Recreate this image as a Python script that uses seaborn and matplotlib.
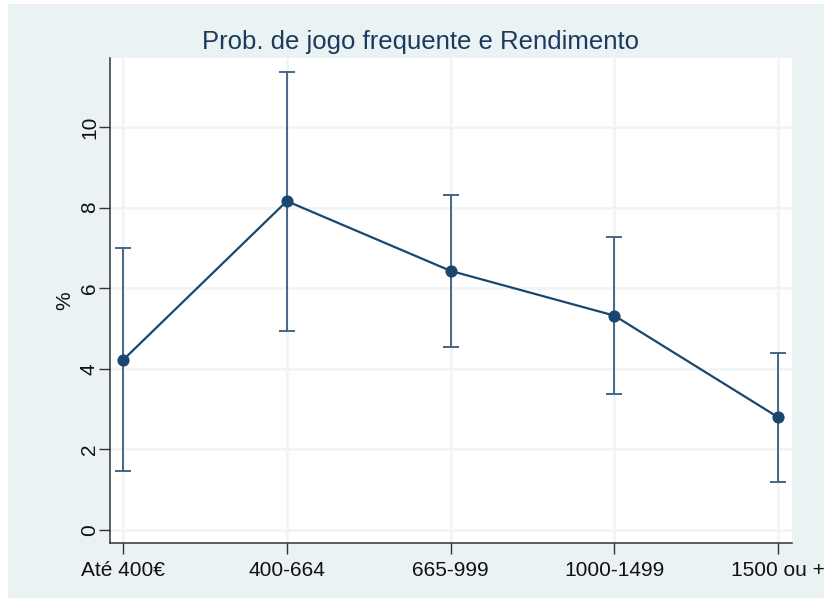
import matplotlib
matplotlib.use("Agg")
import matplotlib.pyplot as plt
import seaborn as sns
import pandas as pd
from matplotlib.patches import Rectangle

categories = ["Até 400€", "400-664", "665-999", "1000-1499", "1500 ou +"]
estimate = [4.22, 8.16, 6.43, 5.32, 2.80]
ci_low = [1.46, 4.94, 4.54, 3.37, 1.19]
ci_high = [7.00, 11.36, 8.31, 7.27, 4.39]
y_ticks = [0, 2, 4, 6, 8, 10]

title = "Prob. de jogo frequente e Rendimento"
ylabel = "%"

navy = "#1a476f"
bg = "#eaf2f3"
grid_c = "#f0f4f5"

sns.set_theme(style="white")
plt.rcParams["font.family"] = ["Liberation Sans", "DejaVu Sans"]

fig = plt.figure(figsize=(8.24, 5.98), dpi=100, facecolor="white")
fig.patches.append(Rectangle((8 / 824, 0), 1 - 8 / 824, 1 - 4 / 598,
                             transform=fig.transFigure, facecolor=bg,
                             edgecolor="none", zorder=-10))
ax = fig.add_axes([110 / 824, 55 / 598, 682 / 824, 485 / 598])
ax.set_facecolor("white")

df = pd.DataFrame({"pos": range(len(categories)), "est": estimate,
                   "lo": ci_low, "hi": ci_high})

for y in y_ticks:
    ax.axhline(y, color=grid_c, lw=1.8, zorder=0)
for x in df["pos"]:
    ax.axvline(x, color=grid_c, lw=1.8, zorder=0)

ax.errorbar(df["pos"], df["est"],
            yerr=[df["est"] - df["lo"], df["hi"] - df["est"]],
            fmt="none", ecolor="#456787", elinewidth=1.4, capsize=5.5,
            capthick=1.4, zorder=2)
sns.lineplot(data=df, x="pos", y="est", ax=ax, color=navy, lw=1.6,
             marker="o", markersize=8, markeredgecolor=navy, zorder=3)

ax.set_xlim(-0.08, 4.085)
ax.set_ylim(-0.32, 11.71)
ax.set_xticks(df["pos"])
ax.set_xticklabels(categories, fontsize=15, color="#111111")
ax.set_yticks(y_ticks)
ax.set_yticklabels([str(v) for v in y_ticks], fontsize=15, rotation=90,
                   va="center", color="#111111")
ax.tick_params(axis="both", direction="out", length=8, width=1,
               color="#333333", bottom=True, left=True)
ax.tick_params(axis="x", pad=5)
ax.tick_params(axis="y", pad=0)
for s in ["top", "right"]:
    ax.spines[s].set_visible(False)
for s in ["left", "bottom"]:
    ax.spines[s].set_color("#333333")
    ax.spines[s].set_linewidth(1.1)
ax.set_xlabel("")
ax.set_ylabel(ylabel, fontsize=15, color="#111111", labelpad=4)

fig.text(420 / 824, 1 - 42 / 598, title, ha="center", va="center",
         fontsize=18.5, color="#1c3a5e")

fig.savefig("out.png", dpi=100, facecolor="white")
